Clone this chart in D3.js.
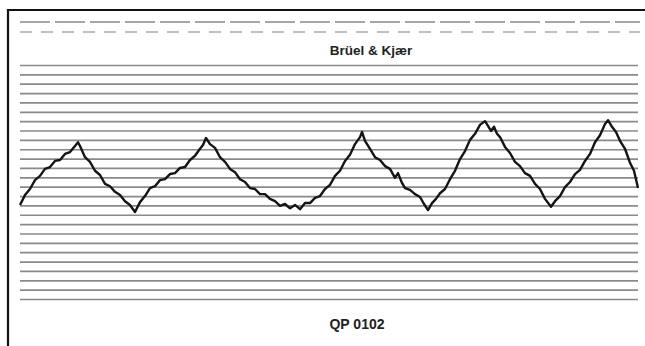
<!DOCTYPE html>
<meta charset="utf-8">

<head>
  <script src="https://d3js.org/d3.v7.min.js"></script>
  <style>
    body {
      margin: 0;
      background: white;
      font-family: "Liberation Sans", Arial, sans-serif;
    }

    .grid line {
      stroke: #8a8a8a;
      stroke-width: 1.7;
    }

    .trace {
      fill: none;
      stroke: #151515;
      stroke-width: 2.4;
      stroke-linejoin: round;
    }
  </style>
</head>

<body>
  <script>

    // level recorder trace, time in s, level in dB
    var time = [0.00, 0.25, 0.50, 0.75, 1.00, 1.25, 1.50, 1.75, 2.00, 2.25, 2.50, 2.75, 2.90,
      3.00, 3.25, 3.50, 3.75, 4.00, 4.25, 4.50, 4.75, 5.00, 5.25, 5.50, 5.75,
      6.00, 6.25, 6.50, 6.75, 7.00, 7.25, 7.50, 7.75, 8.00, 8.25, 8.50, 8.75, 9.00, 9.15, 9.30,
      9.50, 9.75, 10.00, 10.25, 10.50, 10.75, 11.00, 11.25, 11.50, 11.75, 12.00, 12.25, 12.50, 12.75,
      13.00, 13.25, 13.50, 13.75, 14.00, 14.25, 14.50, 14.75, 15.00, 15.25, 15.50,
      15.75, 16.00, 16.25, 16.50, 16.75, 17.00, 17.10,
      17.25, 17.50, 17.75, 18.00, 18.25, 18.50, 18.75, 18.90, 19.10, 19.25, 19.50, 19.75, 20.00, 20.20, 20.40,
      20.60, 20.80, 21.00, 21.25, 21.50, 21.75, 22.00, 22.25, 22.50, 22.75, 23.00, 23.25,
      23.40, 23.55, 23.70, 23.85, 24.00, 24.25, 24.50, 24.75, 25.00, 25.25, 25.50, 25.75, 26.00, 26.25, 26.55,
      26.75, 27.00, 27.25, 27.50, 27.75, 28.00, 28.25, 28.50, 28.75, 29.00, 29.25, 29.40,
      29.60, 29.80, 30.00, 30.25, 30.50, 30.70, 30.90];

    var level = [20.1, 22.2, 23.5, 25.4, 26.3, 27.8, 28.2, 29.5, 29.7, 31.0, 31.4, 32.7, 33.5,
      32.7, 30.3, 29.3, 27.4, 26.5, 24.6, 24.1, 22.9, 22.2, 20.9, 20.1, 18.6,
      20.7, 22.0, 23.7, 24.1, 25.4, 25.6, 26.7, 26.9, 28.0, 28.2, 29.7, 30.6, 32.1, 32.9, 34.4,
      33.1, 32.3, 30.3, 29.3, 27.8, 27.1, 25.6, 25.0, 23.7, 23.5, 22.4, 22.4, 21.4, 20.9,
      19.9, 20.3, 19.4, 20.1, 19.2, 20.5, 20.5, 21.6, 22.0, 23.5, 24.4,
      26.3, 27.4, 29.5, 30.8, 33.1, 34.6, 35.7,
      33.8, 32.1, 30.3, 29.7, 28.4, 27.8, 25.9, 26.9, 24.8, 23.7, 23.3, 22.4, 21.8, 20.3, 19.0,
      20.5, 21.4, 22.6, 23.5, 25.6, 27.4, 29.9, 31.6, 34.0, 35.3, 37.2, 38.0,
      37.0, 35.9, 36.8, 35.3, 34.6, 32.5, 31.2, 29.3, 28.4, 26.9, 26.3, 24.6, 23.5, 21.4, 19.7,
      20.9, 22.0, 23.9, 25.0, 26.7, 27.6, 29.5, 31.0, 33.5, 35.0, 37.4, 38.2,
      36.8, 35.7, 33.8, 32.1, 29.1, 27.4, 23.7];

    // paper grid, one line every 2 dB
    var gridLevels = d3.range(0, 51, 2);

    var title = "Brüel & Kjær";
    var paperCode = "QP 0102";

    var width = 645,
      height = 346;

    var x = d3.scaleLinear()
      .domain([0, 30.9])
      .range([20, 638]);

    var y = d3.scaleLinear()
      .domain([0, 50])
      .range([299, 65]);

    var svg = d3.select("body")
      .append("svg")
      .attr("width", width)
      .attr("height", height);

    svg.append("rect")
      .attr("width", width)
      .attr("height", height)
      .style("fill", "white");

    // frame, only top and left are visible in the scan
    svg.append("path")
      .attr("d", "M8," + height + "V10H" + width)
      .style("fill", "none")
      .style("stroke", "#111")
      .style("stroke-width", 2.2);

    // dashes at the paper edge
    svg.append("line")
      .attr("x1", 20).attr("x2", 640)
      .attr("y1", 22).attr("y2", 22)
      .style("stroke", "#8a8a8a")
      .style("stroke-width", 1.3)
      .style("stroke-dasharray", "30,5");

    svg.append("line")
      .attr("x1", 20).attr("x2", 640)
      .attr("y1", 32).attr("y2", 32)
      .style("stroke", "#aaa")
      .style("stroke-width", 1.3)
      .style("stroke-dasharray", "12,9");

    svg.append("text")
      .attr("x", 371)
      .attr("y", 55)
      .attr("text-anchor", "middle")
      .attr("font-size", 13.5)
      .attr("font-weight", "bold")
      .style("fill", "#222")
      .text(title);

    var grid = svg.append("g")
      .attr("class", "grid")
      .attr("transform", "translate(20,0)")
      .call(d3.axisRight(y)
        .tickValues(gridLevels)
        .tickSize(618)
        .tickFormat(""));

    grid.select(".domain").remove();

    var line = d3.line()
      .x(function (d, i) { return x(time[i]); })
      .y(function (d) { return y(d); });

    svg.append("path")
      .datum(level)
      .attr("class", "trace")
      .attr("d", line);

    svg.append("text")
      .attr("x", 357)
      .attr("y", 329)
      .attr("text-anchor", "middle")
      .attr("font-size", 14)
      .attr("font-weight", "bold")
      .style("fill", "#222")
      .text(paperCode);

  </script>
</body>

</html>
